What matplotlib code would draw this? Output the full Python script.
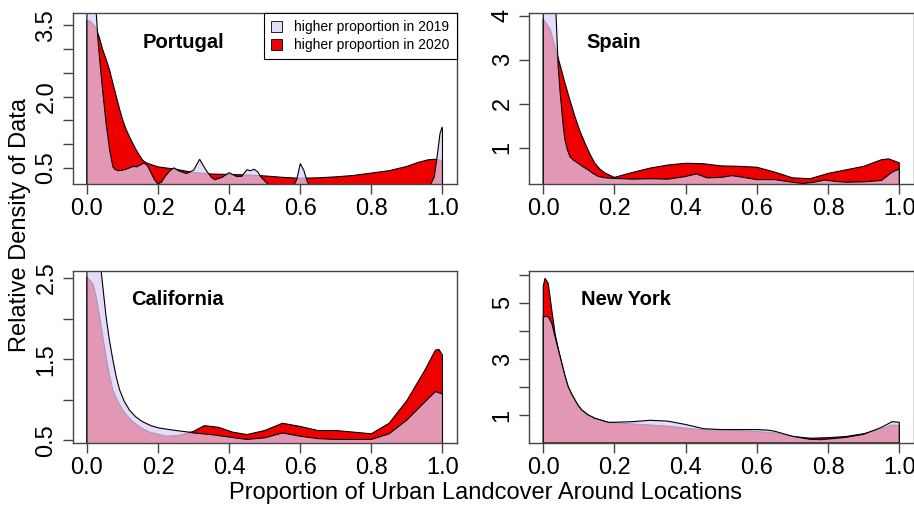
import numpy as np
import matplotlib.pyplot as plt
from matplotlib.patches import Patch

plt.rcParams['font.family'] = ['Liberation Sans', 'DejaVu Sans']

# ---- data (density curves) ----
# Portugal
pt_x19 = [0, 0.01, 0.02, 0.025, 0.031, 0.036, 0.045, 0.054, 0.064, 0.073, 0.08, 0.09, 0.1, 0.11,
          0.12, 0.13, 0.14, 0.15, 0.16, 0.17, 0.18, 0.19, 0.2, 0.21, 0.22, 0.235, 0.245, 0.26, 0.28,
          0.3, 0.317, 0.335, 0.35, 0.36, 0.38, 0.4, 0.42, 0.435, 0.45, 0.46, 0.47, 0.48, 0.49, 0.51,
          0.55, 0.58, 0.59, 0.6, 0.61, 0.62, 0.63, 0.7, 0.8, 0.9, 0.96, 0.97, 0.977, 0.986, 0.993,
          0.999, 1.0]
pt_d19 = [5.0, 6.0, 5.0, 3.9, 3.2, 2.76, 2.07, 1.43, 0.87, 0.52, 0.46, 0.44, 0.45, 0.47,
          0.50, 0.53, 0.52, 0.56, 0.60, 0.55, 0.40, 0.25, 0.16, 0.20, 0.32, 0.45, 0.50, 0.43, 0.38,
          0.45, 0.68, 0.45, 0.30, 0.25, 0.30, 0.40, 0.32, 0.32, 0.46, 0.44, 0.47, 0.42, 0.30, 0.15,
          0.08, 0.10, 0.25, 0.59, 0.45, 0.20, 0.10, 0.05, 0.05, 0.05, 0.08, 0.20, 0.31, 0.80, 1.22,
          1.36, 1.30]
pt_x20 = [0, 0.01, 0.024, 0.035, 0.045, 0.055, 0.064, 0.073, 0.083, 0.092, 0.101, 0.11, 0.12, 0.13,
          0.139, 0.148, 0.157, 0.166, 0.176, 0.2, 0.25, 0.3, 0.35, 0.4, 0.45, 0.5, 0.55, 0.6, 0.65,
          0.7, 0.75, 0.8, 0.85, 0.9, 0.93, 0.96, 0.98, 1.0]
pt_d20 = [3.6, 3.58, 3.46, 3.24, 2.97, 2.76, 2.55, 2.28, 1.99, 1.73, 1.50, 1.31, 1.15, 1.0,
          0.87, 0.76, 0.66, 0.61, 0.58, 0.52, 0.47, 0.40, 0.37, 0.36, 0.35, 0.33, 0.30, 0.28, 0.29,
          0.31, 0.34, 0.39, 0.44, 0.53, 0.61, 0.67, 0.68, 0.65]

# Spain
es_x19 = [0, 0.01, 0.03, 0.035, 0.042, 0.047, 0.052, 0.056, 0.061, 0.068, 0.075, 0.085, 0.098,
          0.112, 0.126, 0.14, 0.155, 0.175, 0.192, 0.25, 0.3, 0.35, 0.4, 0.43, 0.46, 0.5, 0.53,
          0.57, 0.6, 0.65, 0.7, 0.73, 0.76, 0.79, 0.82, 0.85, 0.9, 0.95, 0.98, 1.0]
es_d19 = [4.6, 5.5, 4.8, 4.2, 2.84, 2.3, 1.86, 1.5, 1.18, 0.95, 0.80, 0.72, 0.65,
          0.57, 0.50, 0.42, 0.35, 0.32, 0.31, 0.29, 0.30, 0.29, 0.35, 0.41, 0.32, 0.33, 0.37,
          0.32, 0.28, 0.28, 0.22, 0.19, 0.22, 0.27, 0.24, 0.22, 0.23, 0.26, 0.45, 0.52]
es_x20 = [0, 0.02, 0.038, 0.05, 0.061, 0.075, 0.089, 0.103, 0.117, 0.131, 0.145, 0.159, 0.173,
          0.2, 0.25, 0.3, 0.35, 0.4, 0.45, 0.5, 0.55, 0.6, 0.65, 0.7, 0.75, 0.8, 0.85, 0.9, 0.95,
          0.97, 1.0]
es_d20 = [3.92, 3.68, 3.15, 2.8, 2.47, 2.08, 1.71, 1.38, 1.11, 0.86, 0.65, 0.52, 0.43,
          0.33, 0.44, 0.54, 0.61, 0.65, 0.64, 0.59, 0.58, 0.56, 0.45, 0.32, 0.30, 0.42, 0.50, 0.58,
          0.73, 0.75, 0.66]

# California
ca_x19 = [0, 0.02, 0.04, 0.047, 0.054, 0.063, 0.073, 0.082, 0.092, 0.105, 0.12, 0.137, 0.156,
          0.18, 0.204, 0.251, 0.288, 0.3, 0.35, 0.4, 0.45, 0.5, 0.55, 0.6, 0.65, 0.7, 0.75, 0.8,
          0.85, 0.9, 0.95, 0.98, 1.0]
ca_d19 = [2.9, 3.0, 2.59, 2.3, 2.02, 1.74, 1.49, 1.29, 1.12, 0.98, 0.87, 0.79, 0.73,
          0.68, 0.65, 0.62, 0.60, 0.59, 0.57, 0.54, 0.51, 0.53, 0.59, 0.55, 0.52, 0.51, 0.51, 0.51,
          0.58, 0.75, 0.97, 1.10, 1.07]
ca_x20 = [0, 0.017, 0.027, 0.036, 0.045, 0.054, 0.063, 0.073, 0.087, 0.101, 0.115, 0.129, 0.15,
          0.176, 0.223, 0.26, 0.3, 0.33, 0.37, 0.41, 0.45, 0.5, 0.55, 0.6, 0.65, 0.7, 0.75, 0.8,
          0.85, 0.9, 0.95, 0.98, 0.99, 1.0]
ca_d20 = [2.51, 2.43, 2.25, 2.02, 1.77, 1.53, 1.31, 1.12, 0.98, 0.87, 0.79, 0.73, 0.66,
          0.60, 0.55, 0.56, 0.61, 0.68, 0.66, 0.60, 0.57, 0.62, 0.71, 0.67, 0.62, 0.62, 0.60, 0.58,
          0.71, 0.99, 1.36, 1.61, 1.62, 1.55]

# New York
ny_x19 = [0, 0.014, 0.024, 0.033, 0.043, 0.052, 0.061, 0.07, 0.08, 0.089, 0.098, 0.108, 0.125,
          0.145, 0.183, 0.2, 0.25, 0.3, 0.35, 0.4, 0.45, 0.5, 0.55, 0.6, 0.63, 0.65, 0.7, 0.75,
          0.78, 0.8, 0.85, 0.9, 0.95, 0.98, 1.0]
ny_d19 = [4.51, 4.51, 4.27, 3.80, 3.30, 2.85, 2.40, 2.01, 1.74, 1.54, 1.34, 1.18, 1.01,
          0.88, 0.74, 0.74, 0.76, 0.81, 0.78, 0.66, 0.51, 0.48, 0.48, 0.48, 0.46, 0.42, 0.24, 0.13,
          0.12, 0.14, 0.20, 0.31, 0.56, 0.76, 0.74]
ny_x20 = [0, 0.005, 0.014, 0.024, 0.033, 0.043, 0.052, 0.061, 0.07, 0.08, 0.089, 0.098, 0.108,
          0.125, 0.145, 0.183, 0.2, 0.25, 0.3, 0.35, 0.4, 0.45, 0.5, 0.55, 0.6, 0.65, 0.7, 0.75,
          0.8, 0.85, 0.9, 0.95, 0.98, 1.0]
ny_d20 = [5.6, 5.88, 5.70, 4.75, 3.92, 3.32, 2.85, 2.40, 2.01, 1.74, 1.54, 1.34, 1.18,
          1.01, 0.88, 0.73, 0.72, 0.68, 0.64, 0.60, 0.53, 0.47, 0.46, 0.44, 0.41, 0.36, 0.23, 0.17,
          0.19, 0.23, 0.33, 0.50, 0.64, 0.62]

panels = [
    ('Portugal', pt_x19, pt_d19, pt_x20, pt_d20),
    ('Spain', es_x19, es_d19, es_x20, es_d20),
    ('California', ca_x19, ca_d19, ca_x20, ca_d20),
    ('New York', ny_x19, ny_d19, ny_x20, ny_d20),
]
ylims = [(0.16, 3.75), (0.18, 4.05), (0.47, 2.59), (0.01, 6.15)]
yticks = [[0.5, 1, 1.5, 2, 2.5, 3, 3.5], [1, 2, 3, 4], [0.5, 1, 1.5, 2, 2.5], [1, 2, 3, 4, 5, 6]]
ylabels = [['0.5', '', '', '2.0', '', '', '3.5'], ['1', '2', '3', '4'],
           ['0.5', '', '1.5', '', '2.5'], ['1', '', '3', '', '5', '']]
# panel names: x in data units, y as axes fraction
name_pos = [(0.157, 0.83), (0.12, 0.83), (0.125, 0.835), (0.105, 0.835)]

red = '#EE0000'
lav = (222/255, 207/255, 246/255, 0.74)   # semi-transparent so overlap turns pink
frame = '#444444'

W, H = 914, 509
fig = plt.figure(figsize=(W/100, H/100), dpi=100)
boxes = [(72.7, 13.3, 456.7, 184), (529, 13.3, 913.5, 184),
         (72.7, 270.7, 456.7, 442.7), (529, 270.7, 913.5, 442.7)]

for i, (name, x19, d19, x20, d20) in enumerate(panels):
    l, t, r, b = boxes[i]
    ax = fig.add_axes([l/W, 1 - b/H, (r - l)/W, (b - t)/H])
    # 2020 underneath in red, 2019 on top in translucent lavender
    ax.fill(np.r_[x20[0], x20, x20[-1]], np.r_[0, d20, 0], facecolor=red, edgecolor='k', lw=0.8)
    ax.fill(np.r_[x19[0], x19, x19[-1]], np.r_[0, d19, 0], facecolor=lav, edgecolor='k', lw=0.8)
    ax.set_xlim(-0.04, 1.04)
    ax.set_ylim(*ylims[i])
    ax.set_xticks([0, 0.2, 0.4, 0.6, 0.8, 1.0])
    ax.set_xticklabels(['0.0', '0.2', '0.4', '0.6', '0.8', '1.0'])
    ax.set_yticks(yticks[i])
    ax.set_yticklabels(ylabels[i], rotation=90, va='center')
    ax.tick_params(direction='out', length=7, width=1, color=frame, labelsize=17, pad=3)
    ax.tick_params(axis='y', pad=4)
    for s in ax.spines.values():
        s.set_color(frame)
        s.set_linewidth(1)
    ax.text(name_pos[i][0], name_pos[i][1], name, transform=ax.get_xaxis_transform(),
            fontsize=14.5, fontweight='bold', ha='left', va='center')
    if i == 0:
        h = [Patch(facecolor=lav, edgecolor='k', lw=0.6), Patch(facecolor=red, edgecolor='k', lw=0.6)]
        leg = ax.legend(h, ['higher proportion in 2019', 'higher proportion in 2020'],
                        loc='upper right', fontsize=10, fancybox=False, borderaxespad=0,
                        handlelength=0.8, handleheight=0.8, handletextpad=0.9,
                        borderpad=0.5, labelspacing=0.3, framealpha=1)
        leg.get_frame().set_edgecolor('k')
        leg.get_frame().set_linewidth(0.8)

fig.text(485.5/W, 1 - 493/H, 'Proportion of Urban Landcover Around Locations',
         fontsize=17, ha='center', va='center')
fig.text(20/W, 1 - 225/H, 'Relative Density of Data', fontsize=17,
         rotation=90, ha='center', va='center')

fig.savefig('out.png', dpi=100)
